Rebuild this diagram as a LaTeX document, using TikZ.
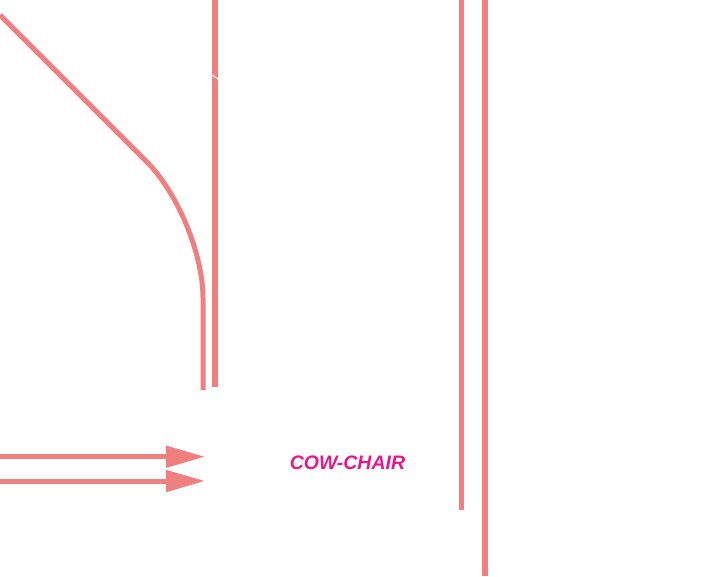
\documentclass[tikz,border=0pt]{standalone}
\usepackage{fontspec}
\usepackage{xcolor}
\usepackage{tikz}
\usetikzlibrary{arrows.meta,positioning}
\newfontfamily\labelfont{Liberation Sans}
\definecolor{track}{HTML}{F08080}
\definecolor{signpink}{HTML}{E6168C}

\begin{document}
\begin{tikzpicture}[x=1pt,y=-1pt,
  rail/.style={draw=track, line width=5pt},
  feed/.style={rail, -{Triangle[length=39pt,width=21pt]}},
  tag/.style={text=signpink, font=\labelfont\bfseries\itshape\fontsize{19.5}{22}\selectfont, inner sep=0pt}]
\useasboundingbox (0,0) rectangle (719,576);
\coordinate (bendA) at (0,15);
\coordinate (bendB) at (203,218);
\coordinate (bendC) at (203,390);
\coordinate (inA) at (215,0);
\coordinate (inB) at (215,387);
\coordinate (outA) at (461,0);
\coordinate (outB) at (461,510);
\coordinate (outC) at (485,0);
\coordinate (outD) at (485,576);
\coordinate (feedA) at (0,456.7);
\coordinate (feedB) at (205,456.7);
\coordinate (feedC) at (0,481);
\coordinate (feedD) at (205,481);
\draw[rail, rounded corners=80pt] (bendA) -- (bendB) -- (bendC);
\draw[rail, line width=6pt] (inA) -- (inB);
\draw[white, line width=1pt] ([xshift=-3pt,yshift=2pt]inA|-0,77) -- ([xshift=3pt,yshift=-2pt]inA|-0,77);
\draw[rail] (outA) -- (outB);
\draw[rail, line width=6pt] (outC) -- (outD);
\draw[feed] (feedA) -- (feedB);
\draw[feed] (feedC) -- (feedD);
\node[tag] (cowchair) at (347.5,463) {COW-CHAIR};
\end{tikzpicture}
\end{document}
